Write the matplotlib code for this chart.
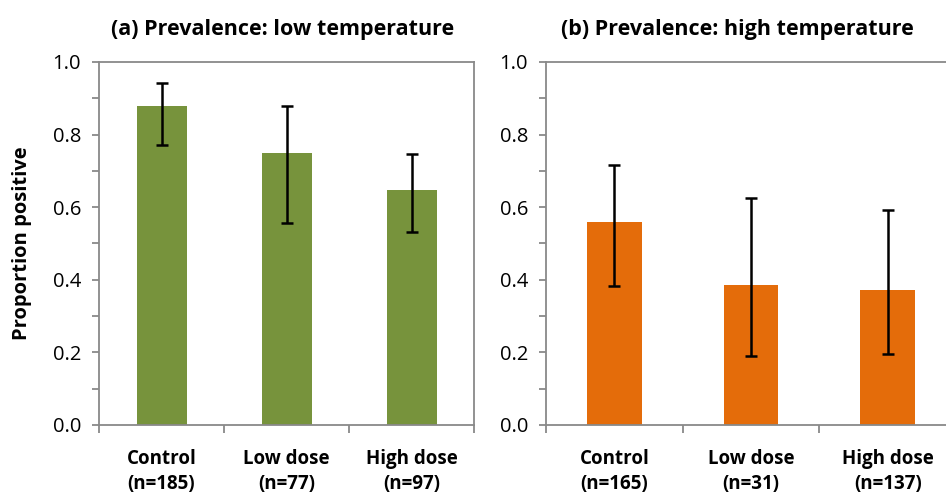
import matplotlib.pyplot as plt
import numpy as np

plt.rcParams['font.family'] = ['Open Sans', 'DejaVu Sans']

# Data
groups = ['Control', 'Low dose', 'High dose']
n_low = [185, 77, 97]
n_high = [165, 31, 137]
prop_low = [0.879, 0.749, 0.647]
err_low_lo = [0.771, 0.556, 0.532]
err_low_hi = [0.942, 0.879, 0.747]
prop_high = [0.559, 0.386, 0.372]
err_high_lo = [0.383, 0.190, 0.196]
err_high_hi = [0.716, 0.625, 0.592]

green = '#77933C'
orange = '#E46C0A'
spine_col = '#898989'

fig = plt.figure(figsize=(9.46, 4.97), dpi=100)
ax_a = fig.add_axes([0.1047, 0.1449, 0.3964, 0.7304])
ax_b = fig.add_axes([0.5772, 0.1449, 0.4334, 0.7304])


def draw_panel(ax, vals, lo, hi, ns, color):
    x = np.arange(len(groups))
    vals = np.array(vals)
    yerr = [vals - np.array(lo), np.array(hi) - vals]
    ax.bar(x, vals, width=0.4, color=color, zorder=2)
    ax.errorbar(x, vals, yerr=yerr, fmt='none', ecolor='black',
                elinewidth=1.8, capsize=4, capthick=1.8, zorder=3)
    ax.set_xlim(-0.5, len(groups) - 0.5)
    ax.set_ylim(0, 1.0)
    ax.set_yticks(np.arange(0, 1.01, 0.2))
    ax.set_yticks(np.arange(0.1, 1.0, 0.2), minor=True)
    ax.set_yticklabels([f'{v:.1f}' for v in np.arange(0, 1.01, 0.2)], fontsize=14.5)
    # category boundaries as major ticks, labels on minor ticks at centres
    ax.set_xticks(np.arange(-0.5, len(groups), 1.0))
    ax.set_xticklabels([])
    ax.set_xticks(x, minor=True)
    ax.set_xticklabels([f'{g}\n(n={n})' for g, n in zip(groups, ns)],
                       minor=True, fontsize=13.5, fontweight='bold', linespacing=1.35)
    ax.tick_params(axis='x', which='minor', length=0, pad=17)
    ax.tick_params(axis='x', which='major', length=6, width=1.3, color=spine_col)
    ax.tick_params(axis='y', which='both', length=5, width=1.3, color=spine_col, pad=8)
    for s in ax.spines.values():
        s.set_color(spine_col)
        s.set_linewidth(1.3)


draw_panel(ax_a, prop_low, err_low_lo, err_low_hi, n_low, green)
draw_panel(ax_b, prop_high, err_high_lo, err_high_hi, n_high, orange)

ax_a.set_ylabel('Proportion positive', fontsize=14.5, fontweight='bold', labelpad=15)

fig.text(0.299, 0.94, '(a) Prevalence: low temperature', ha='center', va='center',
         fontsize=15.5, fontweight='bold')
fig.text(0.779, 0.94, '(b) Prevalence: high temperature', ha='center', va='center',
         fontsize=15.5, fontweight='bold')

fig.savefig('out.png', dpi=100)
